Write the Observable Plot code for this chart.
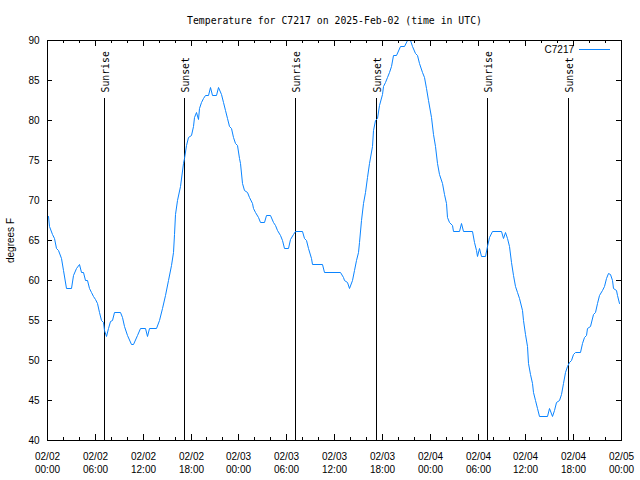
<!DOCTYPE html>
<html>
<head>
<meta charset="utf-8">
<script src="https://cdn.jsdelivr.net/npm/d3@7"></script>
<script src="https://cdn.jsdelivr.net/npm/@observablehq/plot@0.6"></script>
<style>
  html, body { margin: 0; padding: 0; background: #fff; }
  #chart svg { display: block; }
</style>
</head>
<body>
<div id="chart"></div>
<script>
// ---- Data ----
const startTime = "2025-02-02T00:00:00Z";
const endTime = "2025-02-05T00:00:00Z";
const seriesName = "C7217";

// hours since 2025-02-02 00:00 UTC
const hoursSinceStart = [
  0.16, 0.29, 0.59, 0.88, 1.13, 1.42, 1.72, 2.04, 2.38, 2.97, 3.30, 3.64, 3.98, 4.23, 4.48, 4.73,
  4.98, 5.23, 5.48, 5.73, 5.98, 6.23, 6.49, 6.74, 6.99, 7.15, 7.44, 7.65, 7.90, 8.15, 8.40, 9.16,
  9.37, 9.66, 10.00, 10.50, 10.75, 11.25, 11.67, 12.26, 12.51, 12.76, 13.67, 14.01, 14.43, 14.84,
  15.18, 15.52, 15.77, 15.93, 16.09, 16.34, 16.68, 17.02, 17.19, 17.44, 17.72, 18.03, 18.28, 18.44,
  18.69, 18.94, 19.10, 19.36, 19.61, 19.78, 20.23, 20.45, 20.66, 21.20, 21.49, 21.79, 22.04, 22.33,
  22.54, 22.79, 23.04, 23.29, 23.58, 23.87, 24.12, 24.21, 24.42, 24.71, 25.13, 25.38, 25.68, 25.88,
  26.13, 26.47, 26.72, 27.22, 27.47, 27.97, 28.31, 28.60, 28.89, 29.23, 29.48, 29.73, 30.27, 30.48,
  30.82, 31.07, 31.99, 32.24, 32.49, 32.78, 33.08, 33.28, 34.50, 34.78, 36.75, 37.09, 37.26, 37.59,
  37.92, 38.22, 38.51, 38.76, 38.97, 39.17, 39.43, 39.68, 39.93, 40.18, 40.43, 40.73, 40.93, 41.14,
  41.43, 41.68, 41.98, 42.18, 42.40, 42.69, 42.94, 43.19, 43.36, 43.78, 44.28, 44.78, 45.12, 45.53,
  45.75, 46.16, 46.45, 46.70, 47.00, 47.29, 47.54, 47.83, 48.13, 48.46, 48.67, 48.88, 49.21, 49.51,
  49.80, 50.05, 50.21, 50.46, 50.76, 50.96, 51.72, 51.93, 52.22, 53.27, 53.56, 53.81, 53.98, 54.23,
  54.48, 54.98, 55.23, 55.48, 55.78, 56.99, 57.24, 57.49, 57.74, 57.99, 58.24, 58.49, 58.74, 58.99,
  59.24, 59.55, 59.75, 59.96, 60.17, 60.37, 60.59, 60.84, 61.00, 61.25, 61.50, 61.75, 62.68, 63.01,
  63.31, 63.60, 63.85, 64.19, 64.44, 64.69, 64.94, 65.19, 65.44, 65.69, 65.94, 66.23, 66.86, 67.11,
  67.36, 67.61, 67.77, 68.11, 68.45, 68.74, 69.03, 69.28, 69.58, 69.87, 70.12, 70.37, 70.62, 70.83,
  71.03, 71.37, 71.53, 71.79
];

// degrees F
const temperatures = [
  68, 66.7, 65.8, 65.2, 64, 63.75, 62.75, 61.25, 59, 59, 60.6, 61.5, 62, 61, 61, 60,
  60, 59, 58.5, 58, 57.6, 57.1, 56, 55, 54.8, 53.75, 53, 54, 54.9, 55, 56, 56,
  55.4, 54.2, 53.1, 52, 52, 53.1, 54, 54, 53, 54, 54, 55, 56.5, 58.1,
  60, 61.9, 63.5, 65.8, 68.3, 70, 71.7, 74.6, 75.2, 76.9, 77.9, 78.1, 79.2, 80.4,
  81, 80.1, 81.5, 82.2, 82.7, 83.1, 83.1, 84.1, 83.1, 83.1, 84.1, 83.3, 82.3, 81.25,
  80.2, 79.25, 79, 77.9, 77.1, 76.9, 75.2, 74.6, 72.1, 71.25, 71, 70.4, 69.6, 69,
  68.5, 67.9, 67.2, 67.2, 68.1, 68.1, 67.2, 66.9, 66.25, 65.6, 65, 64, 64, 65.1,
  65.8, 66.1, 66.1, 65.2, 65, 64, 62.7, 62, 62, 61, 61, 60.4, 60, 59.8,
  59, 60, 61.25, 62.5, 63.5, 64.8, 67.5, 69.6, 71, 72.9, 74.6, 76.7, 78.75, 80,
  80.2, 81.9, 83.3, 84.2, 84.8, 85.4, 86, 86.7, 88.1, 88.1, 89.2, 89.2, 90, 90,
  89.2, 88.4, 88.1, 87.1, 86, 85.4, 84, 82.5, 80.4, 78.3, 76.7, 74.6, 73.3, 72.1,
  70.8, 69.6, 67.9, 67.2, 66.9, 66.1, 66.1, 67.1, 66.1, 66.1, 64.8, 63.75, 63, 64,
  63, 63, 64.2, 65.4, 66.1, 66.1, 65.2, 66, 65.2, 64.2, 62.3, 60.6, 59.2, 58.5,
  57.7, 56.25, 55, 53.3, 51.7, 49.6, 48.3, 47.1, 46, 45, 44, 43, 43, 44,
  43, 43.75, 44.8, 45, 45.8, 47.1, 48.5, 49.2, 49.8, 50, 50.8, 51, 51, 52.1,
  52.9, 53.1, 54, 54.2, 55.8, 56, 57.1, 58.1, 58.75, 59.2, 60.2, 60.9, 60.8, 60,
  59, 58.8, 58.1, 57.1
];

// sunrise / sunset markers (UTC)
const sunEventTimes = [
  "2025-02-02T07:11Z", "2025-02-02T17:14Z",
  "2025-02-03T07:09Z", "2025-02-03T17:19Z",
  "2025-02-04T07:14Z", "2025-02-04T17:24Z"
];
const sunEventLabels = ["Sunrise", "Sunset", "Sunrise", "Sunset", "Sunrise", "Sunset"];

// axis ticks
const xMajorTicks = [
  "2025-02-02T00:00Z", "2025-02-02T06:00Z", "2025-02-02T12:00Z", "2025-02-02T18:00Z",
  "2025-02-03T00:00Z", "2025-02-03T06:00Z", "2025-02-03T12:00Z", "2025-02-03T18:00Z",
  "2025-02-04T00:00Z", "2025-02-04T06:00Z", "2025-02-04T12:00Z", "2025-02-04T18:00Z",
  "2025-02-05T00:00Z"
];
const xTickLabels = [
  "02/02\n00:00", "02/02\n06:00", "02/02\n12:00", "02/02\n18:00",
  "02/03\n00:00", "02/03\n06:00", "02/03\n12:00", "02/03\n18:00",
  "02/04\n00:00", "02/04\n06:00", "02/04\n12:00", "02/04\n18:00",
  "02/05\n00:00"
];
const yTicks = [40, 45, 50, 55, 60, 65, 70, 75, 80, 85, 90];

const titleText = "Temperature for C7217 on 2025-Feb-02 (time in UTC)";
const yLabelText = "degrees F";

// ---- Build ----
const t0 = new Date(startTime);
const t1 = new Date(endTime);
const data = hoursSinceStart.map((h, i) => ({
  time: new Date(+t0 + h * 3600e3),
  temp: temperatures[i]
}));
const majorDates = xMajorTicks.map(s => new Date(s));
const minorDates = d3.utcHour.every(2).range(t0, d3.utcHour.offset(t1, 1));
const sunEvents = sunEventTimes.map((s, i) => ({time: new Date(s), label: sunEventLabels[i]}));
const labelByTime = new Map(majorDates.map((d, i) => [+d, xTickLabels[i]]));

const W = 640, H = 480, mL = 47, mR = 19, mT = 40, mB = 40;
const innerW = W - mL - mR, innerH = H - mT - mB;
const mono = "'DejaVu Sans Mono', 'Liberation Mono', monospace";
const lineColor = "#0a84ff";

const legendMark = (index, scales, values, dims) => {
  const g = d3.create("svg:g");
  const xr = dims.width - dims.marginRight;
  const y = dims.marginTop + 9.5;
  g.append("text")
    .attr("x", xr - 47).attr("y", y).attr("dy", "0.35em")
    .attr("text-anchor", "end")
    .attr("fill", "black")
    .attr("font-size", 10)
    .text(seriesName);
  g.append("line")
    .attr("x1", xr - 42).attr("x2", xr - 11)
    .attr("y1", y).attr("y2", y)
    .attr("stroke", lineColor).attr("stroke-width", 1);
  return g.node();
};

const chart = Plot.plot({
  width: W, height: H,
  marginLeft: mL, marginRight: mR, marginTop: mT, marginBottom: mB,
  style: {fontFamily: "'Liberation Sans', Arial, sans-serif", fontSize: "10px", background: "white", color: "black", overflow: "visible"},
  x: {type: "utc", domain: [t0, t1], round: true},
  y: {domain: [40, 90], round: true},
  marks: [
    // tick labels
    Plot.axisX(majorDates, {tickSize: 0, tickPadding: 10, lineHeight: 1.33, tickFormat: d => labelByTime.get(+d), label: null, fill: "black"}),
    Plot.axisY(yTicks, {tickSize: 0, tickPadding: 8, label: null, fill: "black"}),
    // inward ticks (gnuplot style, mirrored)
    Plot.ruleX(minorDates, {x: d => d, insetTop: innerH - 3, stroke: "black"}),
    Plot.ruleX(minorDates, {x: d => d, insetBottom: innerH - 3, stroke: "black"}),
    Plot.ruleX(majorDates, {x: d => d, insetTop: innerH - 6, stroke: "black"}),
    Plot.ruleX(majorDates, {x: d => d, insetBottom: innerH - 6, stroke: "black"}),
    Plot.ruleY(yTicks, {y: d => d, insetRight: innerW - 5, stroke: "black"}),
    Plot.ruleY(yTicks, {y: d => d, insetLeft: innerW - 5, stroke: "black"}),
    // sunrise / sunset lines
    Plot.ruleX(sunEvents, {x: "time", insetTop: 58, stroke: "black", strokeWidth: 1}),
    Plot.text(sunEvents, {x: "time", text: "label", frameAnchor: "top", dy: 52, dx: -2, rotate: -90, textAnchor: "start", fontFamily: mono, fontSize: 9.8, fill: "black"}),
    // data
    Plot.line(data, {x: "time", y: "temp", stroke: lineColor, strokeWidth: 1, clip: true}),
    Plot.frame({stroke: "black"}),
    // title and y label
    Plot.text([titleText], {frameAnchor: "top", dy: -20, lineAnchor: "middle", fontFamily: mono, fontSize: 9.8, fill: "black"}),
    Plot.text([yLabelText], {frameAnchor: "left", dx: -37, rotate: -90, textAnchor: "middle", fontSize: 10, fill: "black"}),
    legendMark
  ]
});

document.getElementById("chart").appendChild(chart);
</script>
</body>
</html>
